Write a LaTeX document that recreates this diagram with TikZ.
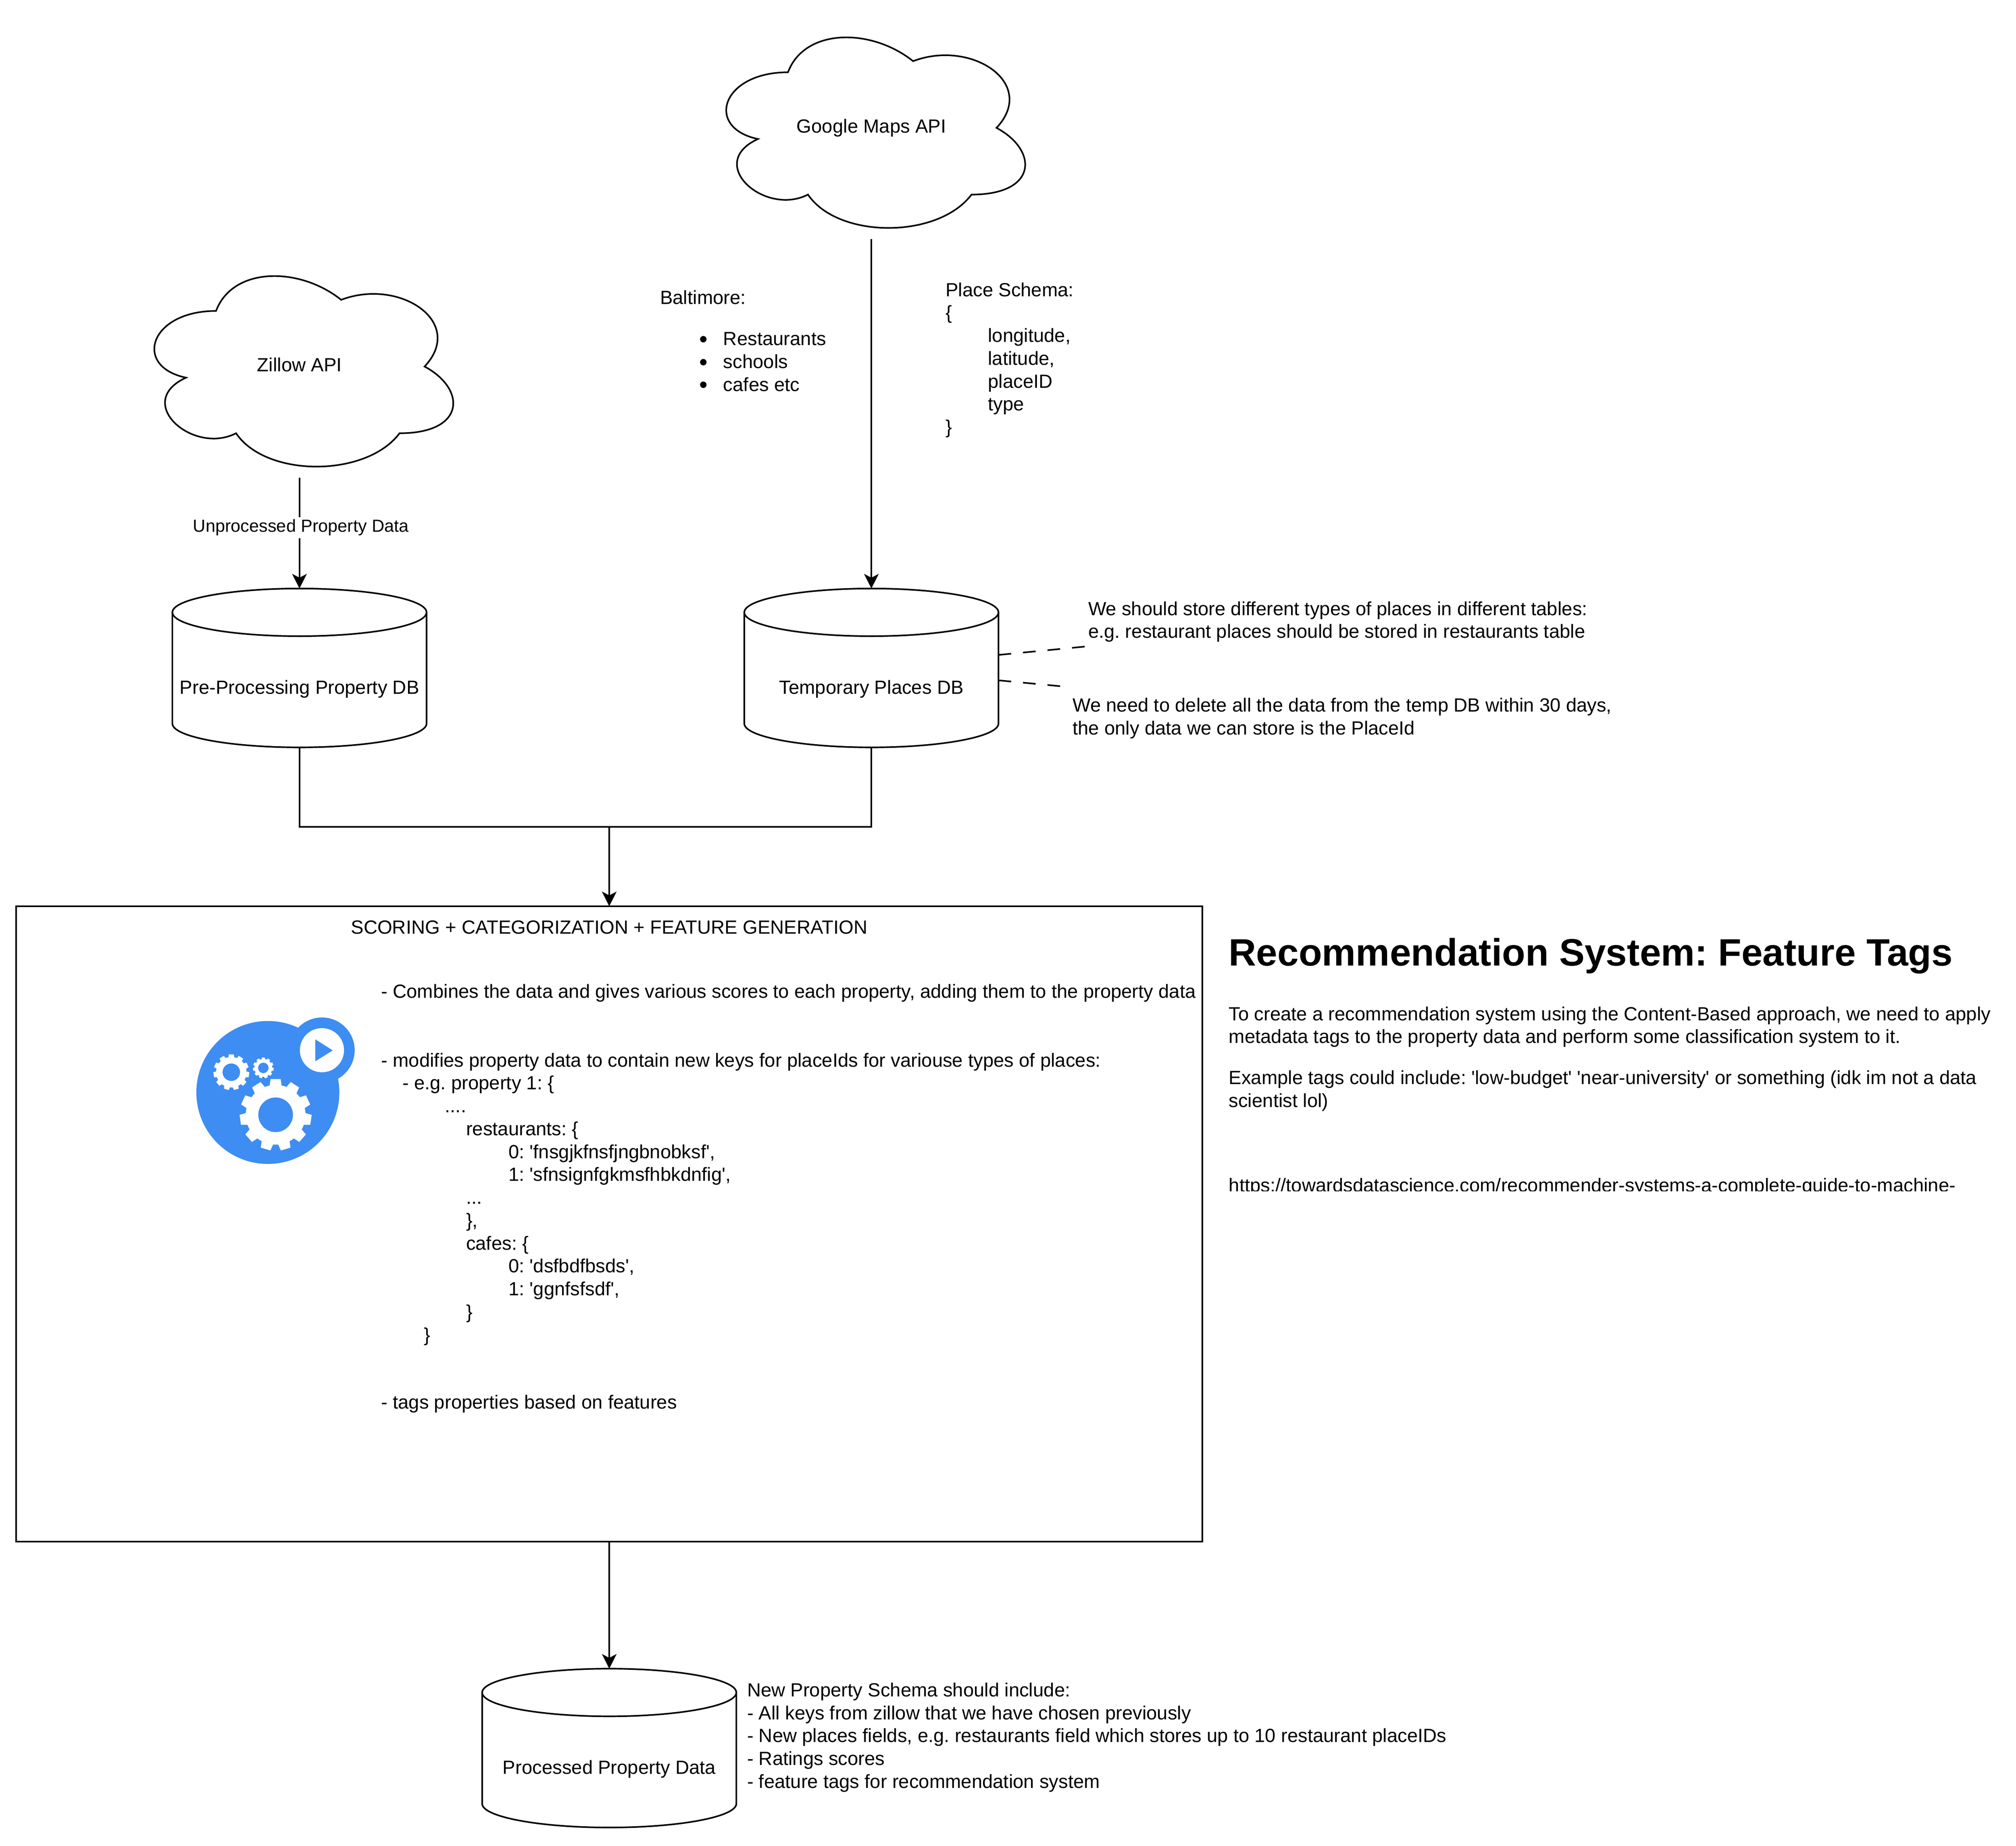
\documentclass[tikz,border=0pt]{standalone}
\usepackage{fontspec}
\usepackage{tikz}
\usetikzlibrary{arrows.meta}
\newfontfamily\drawfont{Liberation Sans}
\definecolor{iconblue}{HTML}{3D8DF2}

\tikzset{
  apicloud/.style={minimum width=210pt,minimum height=140pt,inner sep=0pt,outer sep=0pt,
                   text height=8.7pt,text depth=2.5pt},
  dbcyl/.style={minimum width=160pt,minimum height=100pt,inner sep=0pt,outer sep=0pt,
                text height=35.3pt,text depth=2.5pt},
  txtnote/.style={anchor=north west,inner sep=0pt,align=left},
  notelink/.style={dash pattern=on 8pt off 7.5pt}
}
\newcommand{\tabin}[1]{\hspace*{#1pt}}
\newcommand{\placeitem}[1]{\hspace*{24.6pt}\makebox[15.2pt][l]{\raisebox{-1.1pt}{\fontsize{15}{14}\selectfont\textbullet}}#1}
\newcommand{\cloudoutline}[1]{
  \begin{scope}[shift={(#1.north west)},x=210pt,y=-140pt]
    \draw (.25,.25) .. controls (.05,.25) and (0,.5) .. (.16,.55)
      .. controls (0,.66) and (.18,.9) .. (.31,.8)
      .. controls (.4,1) and (.7,1) .. (.8,.8)
      .. controls (1,.8) and (1,.6) .. (.875,.5)
      .. controls (1,.3) and (.8,.1) .. (.625,.2)
      .. controls (.5,.05) and (.3,.05) .. (.25,.25) -- cycle;
  \end{scope}
}
\newcommand{\dboutline}[1]{
  \begin{scope}[shift={(#1.north west)}]
    \draw (0,15) arc[start angle=180,end angle=0,x radius=80pt,y radius=15pt]
      -- (160,85) arc[start angle=0,end angle=-180,x radius=80pt,y radius=15pt] -- cycle;
    \draw (0,15) arc[start angle=180,end angle=360,x radius=80pt,y radius=15pt];
  \end{scope}
}
\newcommand{\icongear}[6]{
  \begin{scope}[shift={(#1,#2)}]
    \fill[white] (0,0) circle (#4);
    \foreach \t in {0,...,10}
      \fill[white] ({#6+\t*360/11-12}:#4-.5) -- ({#6+\t*360/11-8}:#3)
        -- ({#6+\t*360/11+8}:#3) -- ({#6+\t*360/11+12}:#4-.5) -- cycle;
    \fill[iconblue] (0,0) circle (#5);
  \end{scope}
}

\begin{document}
\begin{tikzpicture}[x=1pt,y=-1pt,>={Stealth[length=9.2pt,width=9.2pt,inset=2.4pt]},
                    line width=1pt,auto=false,
                    every node/.style={font=\drawfont\fontsize{12}{14.4}\selectfont\frenchspacing}]
  \useasboundingbox (0,0) rectangle (1269,1162);

  \node[dbcyl]    (predb)  at (188.5,420.5)                  {Pre-Processing Property DB};
  \node[dbcyl]    (tempdb) [right of=predb,node distance=360pt] {Temporary Places DB};
  \node[apicloud] (zillow) [above of=predb,node distance=189.75pt] {Zillow API};
  \node[apicloud] (gmaps)  [above of=tempdb,node distance=340pt]   {Google Maps API};
  \dboutline{predb}
  \dboutline{tempdb}
  \cloudoutline{zillow}
  \cloudoutline{gmaps}

  \node[draw,outer sep=0pt,minimum width=746.5pt,minimum height=400pt] (scorebox) at (383.5,770.5) {};
  \node[dbcyl]    (procdb) [below of=scorebox,node distance=330pt] {Processed Property Data};
  \dboutline{procdb}
  \coordinate (merge) at (383.5,520.5);

  \node[anchor=base] (scoretitle) at (383.5,587.8) {SCORING + CATEGORIZATION + FEATURE GENERATION};
  \node[txtnote] (scorebody) at (239.5,619.2) {%
    - Combines the data and gives various scores to each property, adding them to the property data\\[28.8pt]
    - modifies property data to contain new keys for placeIds for variouse types of places:\\
    \tabin{13.4}- e.g. property 1: \{\\
    \tabin{40.1}....\\
    \tabin{53.4}restaurants: \{\\
    \tabin{80.1}0: 'fnsgjkfnsfjngbnobksf',\\
    \tabin{80.1}1: 'sfnsignfgkmsfhbkdnfig',\\
    \tabin{53.4}...\\
    \tabin{53.4}\},\\
    \tabin{53.4}cafes: \{\\
    \tabin{80.1}0: 'dsfbdfbsds',\\
    \tabin{80.1}1: 'ggnfsfsdf',\\
    \tabin{53.4}\}\\
    \tabin{26.8}\}\\[28pt]
    - tags properties based on features};

  \node[txtnote] (citylist) at (415,182.3) {%
    Baltimore:\\[11.6pt]
    \placeitem{Restaurants}\\
    \placeitem{schools}\\
    \placeitem{cafes etc}};
  \node[txtnote] (placeschema) at (594.7,177.4) {%
    Place Schema:\\
    \{\\
    \tabin{26.7}longitude,\\
    \tabin{26.7}latitude,\\
    \tabin{26.7}placeID\\
    \tabin{26.7}type\\
    \}};
  \node[txtnote] (tablesnote) at (684.5,378.1) {%
    We should store different types of places in different tables:\\
    e.g. restaurant places should be stored in restaurants table};
  \node[txtnote] (deletenote) at (674.7,438.9) {%
    We need to delete all the data from the temp DB within 30 days,\\
    the only data we can store is the PlaceId};
  \node[txtnote] (newschema) at (469.8,1058.9) {%
    New Property Schema should include:\\
    - All keys from zillow that we have chosen previously\\
    - New places fields, e.g. restaurants field which stores up to 10 restaurant placeIDs\\
    - Ratings scores\\
    - feature tags for recommendation system};

  \node[anchor=base west,inner sep=0pt,font=\drawfont\bfseries\fontsize{24}{28.8}\selectfont\frenchspacing]
    (rectitle) at (773,608) {Recommendation System: Feature Tags};
  \node[txtnote] (recbody) at (773,633.2) {%
    To create a recommendation system using the Content-Based approach, we need to apply\\
    metadata tags to the property data and perform some classification system to it.\\[11.4pt]
    Example tags could include: 'low-budget' 'near-university' or something (idk im not a data\\
    scientist lol)};
  \begin{scope}
    \clip (770,735) rectangle (1269,749.9);
    \node[txtnote] (reclink) at (773,741.1) {https://towardsdatascience.com/recommender-systems-a-complete-guide-to-machine-};
  \end{scope}

  % icon
  \fill[iconblue] (168.6,687.75) circle (45);
  \fill[iconblue] (202.65,661.15) circle (20.6);
  \fill[white] (202.65,661.15) circle (13.9);
  \fill[iconblue] (198.5,654.35) -- (198.5,668.1) -- (209.45,661.25) -- cycle;
  \icongear{173.5}{701.8}{22.7}{18.8}{10.9}{270}
  \icongear{145.6}{675}{11.35}{9.6}{5.5}{270}
  \icongear{165.75}{672.3}{6.6}{5.6}{3.3}{270}

  \coordinate (tablesfrom) at (628.5,412.3);
  \coordinate (tablesto)   at (683.5,407);
  \coordinate (deletefrom) at (628.5,428.3);
  \coordinate (deleteto)   at (668.6,432.1);

  \path[->] (zillow) edge node[fill=white,inner sep=0pt,minimum height=13.25pt,pos=.45,xshift=.9pt,
                               font=\drawfont\fontsize{11}{13.2}\selectfont\frenchspacing] {Unprocessed Property Data} (predb)
            (gmaps) edge (tempdb)
            (scorebox) edge (procdb)
            (merge) edge (scorebox);
  \draw (predb.south) |- (merge);
  \draw (tempdb.south) |- (merge);
  \draw[notelink] (tablesfrom) -- (tablesto);
  \draw[notelink] (deletefrom) -- (deleteto);
\end{tikzpicture}
\end{document}
